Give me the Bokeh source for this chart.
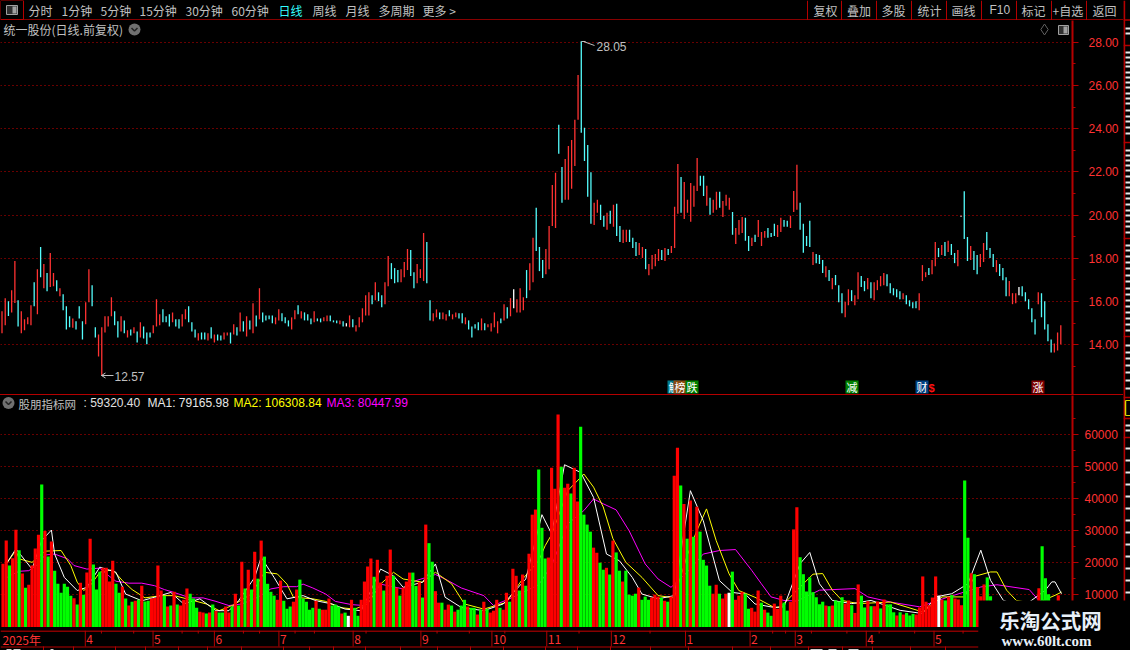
from bokeh.plotting import figure
from bokeh.layouts import column, row
from bokeh.models import Range1d, FixedTicker, Div, PrintfTickFormatter
from bokeh.core.properties import value
from bokeh.embed import file_html
from bokeh.resources import INLINE

# ---------- data ----------
candle_high = [
 15.55,16.15,16.02,16.53,17.88,16.06,15.55,15.18,15.27,15.83,
 16.90,17.50,18.53,17.74,17.32,18.25,17.32,16.99,16.62,16.34,
 15.78,15.32,15.22,15.09,15.78,15.09,15.97,17.50,16.76,14.81,
 14.48,14.81,15.32,15.32,16.20,15.55,15.09,15.32,15.13,14.67,
 14.71,14.81,14.62,15.04,14.85,14.57,14.57,14.90,16.11,15.41,
 15.64,15.32,15.41,15.50,15.18,15.18,15.41,15.64,15.78,15.04,
 14.71,14.53,14.57,14.57,14.53,14.81,14.48,14.48,14.43,14.57,
 14.57,14.57,14.95,14.81,15.50,15.09,15.32,15.13,15.92,15.36,
 16.62,15.50,15.36,15.36,15.36,15.27,15.64,15.46,15.27,15.13,
 15.27,15.60,15.83,15.55,15.50,15.41,15.22,15.55,15.22,15.22,
 15.27,15.36,15.36,15.13,15.13,15.13,15.09,15.00,15.36,15.18,
 14.90,15.27,15.69,16.29,16.43,16.29,16.90,16.43,16.29,16.90,
 18.11,17.78,17.55,17.46,
 17.50,17.83,18.43,18.39,17.36,17.74,17.50,19.18,18.76,16.06,
 15.46,15.64,15.50,15.50,15.41,15.60,15.41,15.50,15.46,15.46,
 15.27,15.13,14.85,14.95,15.04,15.22,15.00,14.95,15.00,15.50,
 15.09,15.22,15.88,15.74,16.16,16.57,16.11,16.62,16.20,17.46,
 17.78,18.95,20.34,18.53,17.92,18.43,19.50,21.40,21.96,24.18,
 22.23,22.60,23.20,23.48,24.41,26.49,28.05,24.04,23.25,21.99,
 20.57,20.71,20.48,19.97,20.11,20.20,20.48,20.53,19.50,19.32,
 19.32,19.32,18.95,18.76,18.71,18.53,18.43,17.74,18.16,18.20,
 18.43,18.39,18.48,18.43,18.57,20.39,22.37,21.77,21.54,20.71,
 21.49,21.36,22.65,21.82,21.82,21.36,20.80,20.71,21.08,21.08,
 20.66,20.94,20.80,20.15,19.41,19.78,19.92,19.88,19.04,18.95,
 19.09,19.78,19.22,19.27,19.41,19.18,19.60,19.55,19.88,19.78,
 19.74,19.97,21.12,22.33,20.57,19.60,19.04,19.74,18.29,18.20,
 18.16,17.92,17.64,17.46,17.09,17.23,16.76,16.39,15.98,16.57,
 16.53,16.29,17.36,17.18,16.95,17.09,16.90,16.90,16.99,17.18,
 17.32,17.27,16.85,16.62,16.57,16.48,16.39,16.29,16.06,15.97,
 16.02,16.39,17.69,17.36,17.55,17.92,18.76,18.48,18.62,18.76,
 18.81,18.67,18.25,18.39,19.97,21.11,18.99,18.57,18.34,18.16,
 18.20,18.71,19.22,18.48,18.20,17.92,17.74,17.55,17.13,16.95,
 16.39,16.39,16.67,16.71,16.43,16.11,15.69,15.18,16.43,16.39,
 16.02,14.95,14.25,14.06,14.57,14.90]
candle_low = [
 14.53,14.90,15.33,15.50,15.94,14.85,14.53,14.67,14.95,14.90,
 15.78,15.41,17.13,16.62,16.48,16.67,16.71,16.48,16.25,15.60,
 14.71,14.81,14.79,14.71,15.22,14.25,14.95,15.97,15.78,14.34,
 13.46,12.57,14.57,14.85,15.32,14.90,14.34,14.62,14.53,14.34,
 14.43,14.53,14.11,14.34,14.29,14.02,14.34,14.53,14.85,14.90,
 15.04,15.04,14.85,15.04,14.85,14.76,14.85,15.18,15.04,14.62,
 14.34,14.20,14.25,14.25,14.20,14.29,14.11,14.20,14.20,14.25,
 14.43,14.06,14.48,14.43,14.62,14.62,14.39,14.71,14.53,14.85,
 15.18,15.04,15.13,15.18,15.00,14.95,15.13,15.09,15.00,14.85,
 14.71,15.18,15.41,15.22,15.13,15.13,14.95,15.04,15.09,15.04,
 15.09,15.09,15.09,15.04,15.00,14.95,14.85,14.85,14.81,14.81,
 14.62,14.81,15.04,15.36,15.36,15.88,16.06,16.02,15.74,15.88,
 16.71,17.04,16.85,16.90,
 16.90,17.13,17.46,17.18,16.62,16.85,17.09,16.95,16.85,15.13,
 15.09,15.27,15.18,15.18,15.13,15.32,15.18,15.27,15.22,15.00,
 14.95,14.71,14.34,14.76,14.67,14.67,14.67,14.81,14.62,14.81,
 14.53,15.00,15.13,15.22,15.32,15.69,15.50,15.50,15.60,16.16,
 16.53,16.90,18.34,17.41,17.09,17.27,17.50,19.50,19.41,22.84,
 20.57,20.71,20.71,21.22,22.28,24.41,23.81,22.51,20.85,19.60,
 19.55,20.11,19.78,19.46,19.32,19.60,19.46,19.04,18.76,18.71,
 18.76,18.76,18.48,18.11,18.16,18.02,17.50,17.22,17.50,17.64,
 17.88,17.92,17.88,18.16,18.25,18.48,20.06,20.11,19.82,20.11,
 19.69,20.39,21.12,21.36,20.89,20.43,20.02,20.11,20.25,20.34,
 19.92,20.43,20.25,19.09,18.67,19.09,19.18,18.81,18.34,18.57,
 18.76,18.99,18.57,18.95,18.95,18.99,19.04,18.99,19.22,19.46,
 19.46,19.41,20.15,20.25,19.32,18.26,18.57,18.53,17.69,17.78,
 17.74,17.32,17.13,16.95,16.57,16.76,15.97,15.46,15.27,15.83,
 16.02,15.83,16.11,16.67,16.48,16.57,16.16,16.06,16.53,16.71,
 16.76,16.71,16.39,16.29,16.20,16.11,16.11,15.88,15.78,15.69,
 15.69,15.60,16.95,17.13,17.23,17.27,17.64,18.06,18.16,18.11,
 18.29,18.16,17.78,17.64,19.93,18.90,17.88,17.92,17.46,17.27,
 17.60,17.83,18.39,18.02,17.60,17.36,17.18,16.99,16.25,16.25,
 15.88,15.92,16.29,16.25,16.02,15.64,15.04,14.48,15.88,15.27,
 14.71,14.16,13.64,13.64,13.74,14.02]
candle_kind = ("rrcrrcrrrr" "crcrcrrcrc" "ccrcccrrcc" "rrrrrccrcr" "crcrcccrrr" "cccrccrrcc"
 "crccrcrccr" "rcrcrcrcrc" "rccccrrccc" "rrcrcccrcc" "rrcccrcwrc" "rrrrrcrccr" "rccc"
 "rrrccrrrcc" "rrcrrcrrcc" "rccccrcrrr" "rcrcrwrrrc" "rrcccrrrrc" "crrrrrcccc"
 "rrccrcrccr" "rcccrrcrrr" "rcrcrrrcrr" "rrrccrcrrc" "rrrcrrrccr" "crrrcccrrc"
 "crrrccccrc" "ccrcrcccrr" "crrccrcrrr" "rcccccrccc" "crrrcrrcrc" "rccrwccrcc"
 "rrcccrcccr" "rrwcccccrc" "cccrrr")

volume = [
 19800,27000,19200,21500,30400,24000,16700,12300,13200,19200,
 24500,28800,44500,30000,22000,26700,17600,13500,10700,13500,
 12600,9800,9000,7000,13800,10100,17000,27600,19500,11700,
 17300,18500,18500,14200,20700,13500,10700,12600,8900,6700,
 7900,8200,8500,12900,8000,8200,8900,9100,19200,11400,
 9800,6400,6700,11000,7000,6700,8500,12000,10400,8900,
 6000,4800,4500,4200,4500,7000,5100,4500,4500,6400,
 4500,6400,10400,6700,20400,12000,17900,11700,23500,15100,
 27000,22000,13500,11000,9800,8500,14500,8200,5700,6400,
 7900,11700,14800,8900,7900,5400,6000,8200,5700,5400,
 5400,8900,6700,7000,6400,4200,4500,3500,8500,6000,
 3500,8500,14200,18900,21400,15700,21000,13900,11400,16000,
 24200,16000,12300,9800,
 12300,14200,17000,17000,12800,14000,9200,32000,26200,20400,
 11200,7600,7600,5400,7000,6700,4800,5400,6700,8500,
 6400,6000,6000,3900,5400,7900,5600,4500,5100,8500,
 6000,5400,10700,7900,18200,16000,11400,16400,12900,22900,
 35100,36700,49200,31000,21400,21700,49800,43200,66400,50100,
 43500,44800,41700,49800,39200,62600,35100,32000,29800,24800,
 23200,20100,17900,18500,16400,27000,23300,17600,14200,17600,
 10100,9800,10400,12300,8500,9500,8500,9200,10100,9500,
 9200,8200,7900,9500,47300,56000,44200,38400,27600,39500,
 28200,37600,29800,21000,19200,12900,10400,13200,10400,8900,
 10400,10700,17300,8500,9800,11000,10400,5700,6000,4800,
 11400,7600,5400,4500,3500,7300,5700,9800,7600,5100,
 7800,30500,37400,21800,16500,11100,15500,10900,9300,7100,
 7900,6700,6500,6700,8300,8000,9300,7300,8300,6800,
 4400,13300,9800,6100,8100,6500,6500,8000,5800,8600,
 7100,7100,4600,3600,4600,3900,4400,3600,4100,3900,
 6100,15800,7900,6800,9200,15800,9800,8500,8300,9400,
 10000,8900,8600,6800,45800,27900,16800,16500,12500,9600,
 13300,15500,9600,
 7000,6000,5500,6500,7000,6000,5500,5000,5500,6000,
 5000,5500,6000,7000,12100,25200,15200,10200,7500,6500,
 9900,5900]
volume_kind = ("rrgrrgrgrr" "rrgrgrgggg" "ggrgrgrrgg" "grrrrggrgr" "grgrggrrrr" "grgrgrrrgg"
 "grrgrgrggr" "rgrgrgrgrg" "rggggrrggg" "rrgggggrgr" "rrgggrgwrg" "grrrrgrrgr" "rgrg"
 "rrrggrgrgg" "rrgrrgrggg" "rggrgrgrrr" "grrgrrgrgr" "rrgggrrrrg" "rrgrrggggr"
 "rggrgrggrg" "gggrgggrrr" "grgrrrgrgr" "grggggrrgr" "rwgrrrggrr" "rgrggrrrgg"
 "rrrggggggg" "grgrgggrrg" "rrggrgrrgr" "gggrgrgggr" "rrrrrrwrgr" "grrrggrgrr" "rgg"
 "grgggrrrwg" "ggggrggggr" "rr")

ma1_x = [1,4,9,12,15,16,19,23,26,30,35,38,43,47,52,56,61,66,70,73,78,80,84,88,93,97,102,106,111,114,117,121,124,
 130,134,137,142,149,155,162,167,170,174,179,183,187,191,195,198,203,208,213,217,222,226,230,233,239,
 242,247,250,253,257,263,269,278,285,289,294,299,303,306,310,316,323,325,326,328]
ma1_y = [19700,24400,18100,27000,30300,22800,15500,11400,12400,18700,17100,10300,8200,9300,10800,7200,8800,5100,5100,8200,15500,21800,15500,8800,9800,8200,7200,5600,5100,11400,18100,16000,12400,
 14000,19700,9300,6100,5100,7200,15000,35100,29100,50700,48300,40500,22800,20700,15500,10300,8800,9800,42600,33200,14500,10800,10300,7200,6100,
 6300,19800,23300,13500,8300,7300,8300,5200,4200,9400,10400,13500,24000,14600,8300,6300,11500,14100,14100,10400]
ma2_x = [1,4,5,9,13,18,21,23,25,27,30,34,37,40,44,49,53,57,63,67,71,77,81,85,88,90,96,100,104,109,113,117,121,124,
 130,134,139,143,149,156,161,166,168,170,175,180,183,186,189,193,198,203,208,212,215,218,221,225,228,233,239,241,
 248,251,254,257,260,265,275,285,291,298,301,306,308,311,314,320,326,328]
ma2_y = [19700,23900,21300,20200,23700,23900,19200,14000,11400,12900,17100,17900,14500,11700,9100,9800,9800,8800,7200,5100,6700,10300,17100,16600,13400,9300,8800,8000,6100,5600,7200,13400,17100,15000,
 14000,17100,13500,7200,5600,7700,15000,20700,25400,28900,42600,47800,43700,37500,27600,20200,15500,9800,9100,22300,30100,36900,27000,16600,11400,9300,6100,6300,
 13500,16500,16700,11500,8300,7300,7800,4700,9400,9400,15800,17200,17200,11500,8300,7300,9900,10900]
ma3_x = [1,2,5,8,11,13,16,20,22,26,30,32,35,39,43,47,50,53,58,62,66,70,74,79,83,87,91,93,96,100,103,108,112,115,117,124,
 128,134,137,142,149,152,158,166,170,175,180,183,186,190,194,199,203,207,212,217,222,227,
 232,235,238,242,246,253,264,268,275,284,293,303,308,318,321,328]
ma3_y = [15300,16000,17400,17600,19700,22500,22800,21300,19200,18100,18400,16600,14300,13700,13700,12900,11700,10800,9100,9100,8000,6700,7200,9300,11900,12600,12600,13400,12200,10300,8000,7000,6700,11400,13400,11900,
 14500,16400,15000,12200,9800,6700,9300,13200,19200,32200,36400,40000,38500,36600,30100,19700,15000,12400,17100,22800,23900,24200,
 17700,13500,9400,8300,8100,11500,12000,9400,7800,6300,9400,12500,13200,11700,8300,7300]

price_ticks = [14,16,18,20,22,24,26,28]
price_minor = [13,15,17,19,21,23,25,27]
vol_ticks = [10000,20000,30000,40000,50000,60000]
vol_minor = [15000,25000,35000,45000,55000,65000]
month_idx = [0,26,47,66,86,109,130,152,169,189,212,232,246,268,289]
month_txt = ["2025年","4","5","6","7","8","9","10","11","12","1","2","3","4","5"]
week_idx = [31,41,56,61,75,80,91,97,113,135,145,156,179,201,239,243,251,262,272,283,298]

menu_left = [("分时",28),("1分钟",61),("5分钟",100),("15分钟",139),("30分钟",185),("60分钟",231),
             ("日线",278),("周线",312),("月线",345),("多周期",378),("更多 >",422)]
menu_right = [("复权",813),("叠加",846.5),("多股",881),("统计",917),("画线",951),("F10",989),("标记",1021),("+自选",1052),("返回",1092)]
menu_seps = [807,841,876,911,946,981,1016,1051,1086]

# ---------- styles ----------
CJK = "Noto Sans CJK SC"
LAT = "Liberation Sans"
RED = "#B40000"
TXT = "#C0C0C0"
AX = "#FF3232"
FRAME_W = 1072
RIGHT_W = 51
BAR_FIRST, BAR_LAST = 2.5, 1061.0
CAN_FIRST, CAN_LAST = 1.5, 1060.3


def base_fig(w, h, x_range, y_range, ytop, ybot, xwidth=None, **kw):
    p = figure(width=w, height=h, x_range=x_range, y_range=y_range, output_backend="svg",
               toolbar_location=None, tools="", background_fill_color="black", border_fill_color="black",
               outline_line_color=None, min_border=0, min_border_left=0, min_border_top=0,
               min_border_bottom=0, **kw)
    p.frame_align = False
    p.extra_x_ranges["px"] = Range1d(0, xwidth if xwidth else w)
    p.extra_y_ranges["py"] = Range1d(ybot, ytop)
    p.xgrid.visible = False
    p.ygrid.visible = False
    return p


def txt(p, x, y, s, color=TXT, size=12, font=CJK, align="left", style="normal"):
    p.text(x=[x], y=[y], text=[s], text_color=color, text_font_size=f"{size}px", text_font=value(font),
           text_align=align, text_baseline="middle", text_font_style=style,
           x_range_name="px", y_range_name="py")


def seg(p, x0, y0, x1, y1, color=RED, w=1):
    p.segment(x0=[x0], y0=[y0], x1=[x1], y1=[y1], line_color=color, line_width=w,
              x_range_name="px", y_range_name="py")


def box(p, l, t, r, b, color, line=None):
    p.quad(left=[l], right=[r], top=[t], bottom=[b], fill_color=color, line_color=line,
           x_range_name="px", y_range_name="py")


def chevron(p, x, y):
    p.scatter(x=[x], y=[y], size=12, fill_color="#707070", line_color=None,
              x_range_name="px", y_range_name="py")
    p.line(x=[x - 3, x, x + 3], y=[y - 1.5, y + 1.5, y - 1.5], line_color="#222222", line_width=1.5,
           x_range_name="px", y_range_name="py")


def style_axis(ax, ticks, minor, standoff):
    ax.ticker = FixedTicker(ticks=ticks, minor_ticks=minor)
    ax.axis_line_color = RED
    ax.axis_line_width = 2
    ax.major_tick_line_color = RED
    ax.minor_tick_line_color = RED
    ax.major_tick_out = 6
    ax.major_tick_in = 0
    ax.minor_tick_out = 3
    ax.minor_tick_in = 0
    ax.major_label_text_color = AX
    ax.major_label_text_font = LAT
    ax.major_label_text_font_size = "12px"
    ax.major_label_standoff = standoff


def style_grid(p):
    p.ygrid.visible = True
    p.ygrid.grid_line_color = "#D00000"
    p.ygrid.grid_line_dash = "1 3"
    p.ygrid.grid_line_width = 1


# ---------- header ----------
head = base_fig(1123, 20, Range1d(0, 1123), Range1d(20, 0), 0, 20, x_axis_location=None, y_axis_location=None)
box(head, 0, 0, 23, 19, "black", RED)
box(head, 6, 5, 17, 14, "#303030", "#A0A0A0")
box(head, 12, 6, 16, 13, "#A0A0A0")
for s, x in menu_left:
    txt(head, x, 9.5, s, "#33FFFF" if s == "日线" else TXT, 12)
for s, x in menu_right:
    txt(head, x, 9.5, s, TXT, 12, LAT if s == "F10" else CJK)
for x in menu_seps:
    seg(head, x, 0, x, 20)
seg(head, 0, 19.5, 1123, 19.5, RED, 1.5)

# ---------- price panel (y 20..394) ----------
n_c = len(candle_high)
c_step = (CAN_LAST - CAN_FIRST) / (n_c - 1)
price = base_fig(1123, 374, Range1d(-CAN_FIRST / c_step, (FRAME_W - CAN_FIRST) / c_step),
                 Range1d(11.70, 29.009), 20, 394, xwidth=FRAME_W, x_axis_location=None, y_axis_location="right",
                 min_border_right=RIGHT_W)
style_axis(price.yaxis[0], price_ticks, price_minor, 10)
price.yaxis[0].formatter = PrintfTickFormatter(format="%.2f")
style_grid(price)
ckol = {"r": "#FF3232", "c": "#54FCFC", "w": "#FFFFFF"}
price.segment(x0=list(range(n_c)), x1=list(range(n_c)), y0=candle_low, y1=candle_high,
              line_color=[ckol[k] for k in candle_kind], line_width=1.3)

txt(price, 3, 29, "统一股份(日线.前复权)", TXT, 12)
chevron(price, 134, 29)
price.scatter(x=[1044], y=[29], size=11, marker="diamond", fill_color=None, line_color="#606060",
              x_range_name="px", y_range_name="py")
box(price, 1058, 25, 1068, 34, "#303030", "#A0A0A0")
box(price, 1063, 26, 1067, 33, "#A0A0A0")

i_hi = candle_high.index(max(candle_high))
i_lo = candle_low.index(min(candle_low))
seg(price, 583, 41, 594, 45, "#C0C0C0")
seg(price, 581, 41, 585, 41, "#C0C0C0")
txt(price, 596, 46, f"{candle_high[i_hi]:.2f}", TXT, 12, LAT)
seg(price, 101, 375, 113, 375, "#C0C0C0")
seg(price, 101, 375, 105, 372.5, "#C0C0C0")
seg(price, 101, 375, 105, 377.5, "#C0C0C0")
txt(price, 114, 376, f"{candle_low[i_lo]:.2f}", TXT, 12, LAT)

for l, r, col, s in [(667, 680, "#007A8A", "触"), (673, 686, "#8A4A10", "榜"), (685, 698, "#008000", "跌"),
                     (845, 858, "#008000", "减"), (915, 928, "#004080", "财"), (1031, 1044, "#800000", "涨")]:
    box(price, l, 380, r, 393, col)
    txt(price, (l + r) / 2, 386, s, "#FFFFFF", 11, CJK, "center")
txt(price, 928, 387, "$", "#FF1010", 11, LAT, "left", "bold")

divider = Div(text="", width=1123, height=1, margin=(0, 0, 0, 0), styles={"background-color": RED})

# ---------- volume panel (y 395..630) ----------
n_v = len(volume)
v_step = (BAR_LAST - BAR_FIRST) / (n_v - 1)
shared_x = Range1d(-BAR_FIRST / v_step, (FRAME_W - BAR_FIRST) / v_step)
vol = base_fig(1123, 235, shared_x, Range1d(-1094, 72343), 395, 630, xwidth=FRAME_W, x_axis_location=None,
               y_axis_location="right", min_border_right=RIGHT_W)
style_axis(vol.yaxis[0], vol_ticks, vol_minor, 6)
style_grid(vol)
vol.yaxis[0].formatter = PrintfTickFormatter(format="%d")

vol.line(ma3_x, ma3_y, line_color="#FF00FF", line_width=1)
vol.line(ma2_x, ma2_y, line_color="#FFFF00", line_width=1)
vol.line(ma1_x, ma1_y, line_color="#FFFFFF", line_width=1)
vkol = {"r": "#FF0000", "g": "#00FF00", "w": "#FFFFFF"}
vol.vbar(x=list(range(n_v)), top=volume, bottom=0, width=0.98,
         fill_color=[vkol[k] for k in volume_kind], line_color=None)

chevron(vol, 8, 402.5)
txt(vol, 18, 403, "股朋指标网", TXT, 11.5)
txt(vol, 83, 402.5, ": 59320.40", "#E0E0E0", 12, LAT)
txt(vol, 147, 402.5, "MA1: 79165.98", "#E8E8E8", 12, LAT)
txt(vol, 233, 402.5, "MA2: 106308.84", "#FFFF00", 12, LAT)
txt(vol, 326, 402.5, "MA3: 80447.99", "#FF00FF", 12, LAT)

# ---------- date strip (y 630..650) ----------
strip = base_fig(1123, 20, shared_x, Range1d(650, 630), 630, 650, xwidth=FRAME_W,
                 x_axis_location=None, y_axis_location=None, min_border_right=RIGHT_W)
strip.segment(x0=[i - 0.5 for i in month_idx[1:]], x1=[i - 0.5 for i in month_idx[1:]],
              y0=[630] * (len(month_idx) - 1), y1=[646] * (len(month_idx) - 1), line_color=RED)
strip.segment(x0=[i - 0.5 for i in week_idx], x1=[i - 0.5 for i in week_idx],
              y0=[630] * len(week_idx), y1=[633] * len(week_idx), line_color=RED)
strip.text(x=[i - 0.5 for i in month_idx], y=[639] * len(month_idx), text=month_txt, text_color=AX,
           text_font=value(CJK), text_font_size="12px", text_baseline="middle", x_offset=1)
seg(strip, 0, 630.5, 978, 630.5, RED, 1.5)
seg(strip, 0, 646.5, 978, 646.5, RED, 1)
for x in [43, 73, 115, 145, 178, 207, 241, 283, 309, 333, 365, 400, 437, 470, 503, 545, 577, 610, 650, 688, 732, 770, 808, 842, 872, 910, 945]:
    seg(strip, x, 646, x, 650)
for a, b in [(6, 11), (13, 20), (50, 53), (810, 822), (828, 836), (848, 858)]:
    seg(strip, a, 649, b, 649, "#D0D0D0")

# ---------- clipped side column ----------
side = base_fig(7, 650, Range1d(0, 7), Range1d(650, 0), 0, 650, x_axis_location=None, y_axis_location=None)
side.extra_x_ranges["px"] = Range1d(1123, 1130)
side.extra_y_ranges["py"] = Range1d(650, 0)
seg(side, 1123.7, 0, 1123.7, 650, RED, 2)
for y in [19.5, 45, 142, 238, 336, 397, 418, 437]:
    seg(side, 1123, y, 1130, y, RED, 1.5)
dash_y = [28, 33, 52, 57, 62, 66, 72, 77, 82, 87, 93, 98, 103, 110, 116, 121, 127, 133, 150, 155, 160, 165, 170,
          176, 182, 187, 193, 198, 204, 210, 215, 221, 226, 232, 245, 250, 256, 262, 268, 275, 281, 288, 294, 300,
          306, 312, 318, 324, 330, 345, 352, 358, 365, 372, 380, 388, 425, 430, 448, 460, 472, 484, 496, 508, 520,
          532, 544, 556, 568, 580, 592]
side.segment(x0=[1125] * len(dash_y), x1=[1130] * len(dash_y), y0=dash_y, y1=dash_y, line_color="#E8E8E8",
             line_width=2, x_range_name="px", y_range_name="py")
seg(side, 1125, 400, 1125, 415, "#D8D800", 1.5)
seg(side, 1125, 400, 1130, 400, "#D8D800", 1)
seg(side, 1125, 415, 1130, 415, "#D8D800", 1)

# ---------- watermark patch over the bottom right corner ----------
mark = base_fig(152, 50, Range1d(978, 1130), Range1d(650, 600), 600, 650, x_axis_location=None, y_axis_location=None)
mark.extra_x_ranges["px"] = Range1d(978, 1130)
mark.extra_y_ranges["py"] = Range1d(650, 600)
txt(mark, 1050, 619, "乐淘公式网", "#E8F0F8", 20.5, CJK, "center", "bold")
txt(mark, 1046, 640, "www.60lt.com", "#E8F0F8", 15, "Liberation Serif", "center", "bold")
mark.styles = {"position": "absolute", "left": "978px", "top": "600px", "z-index": "10"}

left = column(head, price, divider, vol, strip, spacing=0)
root = row(left, side, mark, spacing=0)
root.styles = {"position": "absolute", "left": "0px", "top": "0px", "background-color": "black"}

open("out.html", "w").write(file_html(root, INLINE))
